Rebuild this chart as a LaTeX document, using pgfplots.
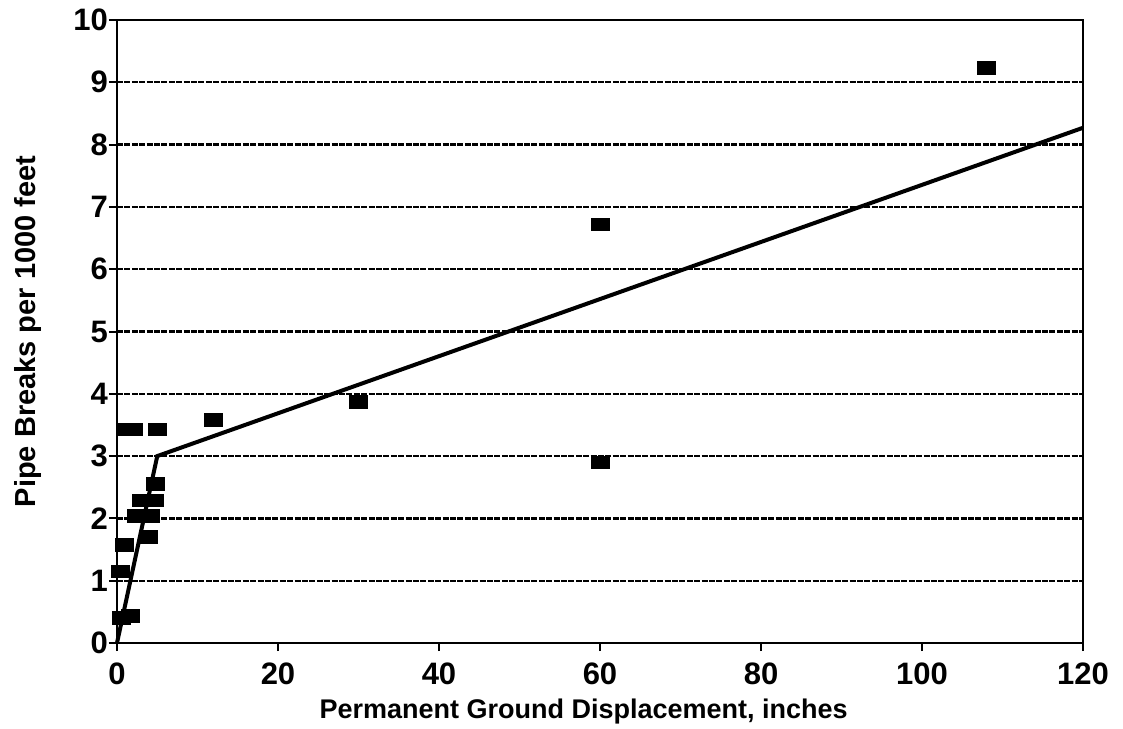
\documentclass[border=0pt]{standalone}
\usepackage{pgfplots}
\pgfplotsset{compat=1.18}
\usetikzlibrary{calc}
\usepackage{fontspec}
\setmainfont{Liberation Sans}
\begin{document}
\begin{tikzpicture}
\begin{axis}[
    width=483pt, height=311.5pt, scale only axis,
    xmin=0, xmax=120, ymin=0, ymax=10,
    xtick={0,20,...,120}, ytick={0,1,...,10},
    tick align=outside, tick pos=left,
    major tick length=4pt,
    tick style={black, line width=1pt},
    axis line style={black, line width=1.4pt},
    ymajorgrids, grid style={black, line width=1.1pt, dash pattern=on 3pt off 0.7pt},
    every tick label/.append style={font=\fontsize{15.5}{18}\selectfont\bfseries},
    xticklabel style={yshift=-2.5pt},
    yticklabel style={xshift=3pt},
    /pgf/number format/assume math mode=true,
    xlabel={Permanent Ground Displacement, inches},
    ylabel={Pipe Breaks per 1000 feet},
    xlabel style={font=\fontsize{13.5}{16}\selectfont\bfseries,
        at={(axis description cs:0.483,-0.1204)}, anchor=base},
    ylabel style={font=\fontsize{14.5}{17}\selectfont\bfseries,
        at={(axis description cs:-0.0839,0.5)}, anchor=base},
    clip=false,
]
% observed break rates
\addplot[only marks, mark=square*, mark size=3.2pt,
    mark options={fill=black, draw=black, xscale=1.4}] coordinates {
    (1,3.43) (2,3.43) (5,3.43) (12,3.58) (30,3.87)
    (4.8,2.56) (3.0,2.29) (4.7,2.29) (2.4,2.04) (4.1,2.04)
    (3.9,1.70) (0.9,1.57) (0.4,1.15) (0.5,0.40) (1.7,0.43)
    (60,6.72) (60,2.90) (108,9.23)
};
% bilinear fit
\addplot[black, line width=2pt] coordinates {
    (0,0) (5,3) (120,8.27)
};
\coordinate (ll) at (rel axis cs:0,0);
\coordinate (ur) at (rel axis cs:1,1);
\end{axis}
\pgfresetboundingbox
\path[use as bounding box] ($(ll)+(-58.5pt,-42.5pt)$) rectangle ($(ur)+(20pt,10pt)$);
\end{tikzpicture}
\end{document}
